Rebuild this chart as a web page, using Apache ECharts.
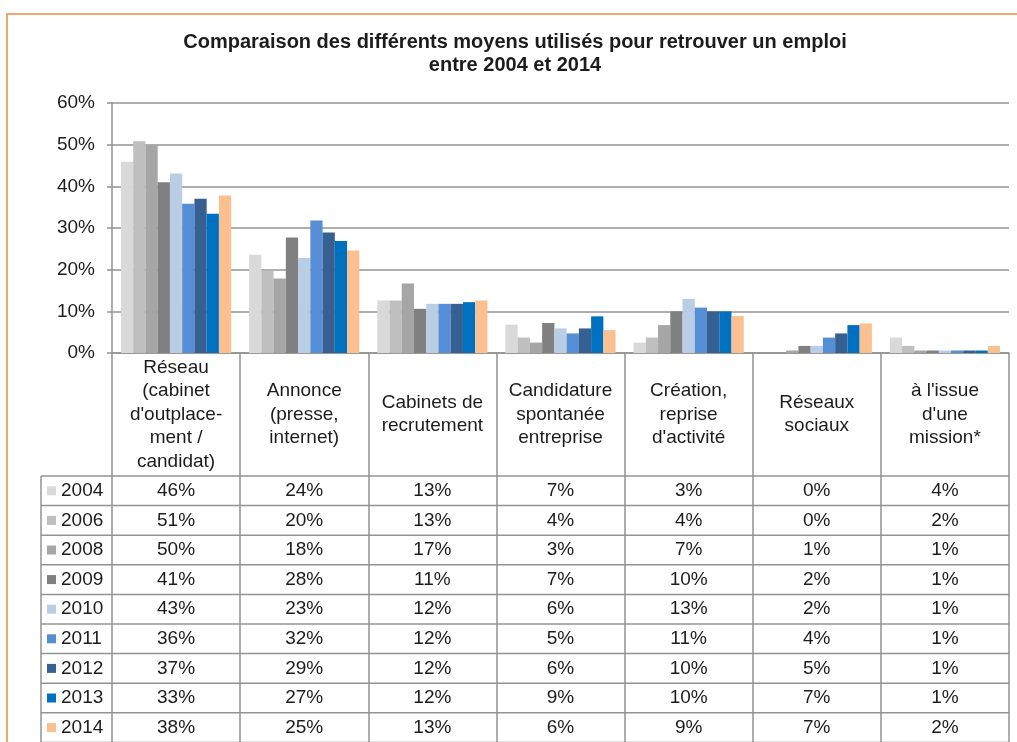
<!DOCTYPE html>
<html>
<head>
<meta charset="utf-8">
<script src="https://cdn.jsdelivr.net/npm/echarts@6/dist/echarts.min.js"></script>
<style>
  html, body { margin: 0; padding: 0; background: #fff; }
  #chart { width: 1017px; height: 742px; }
</style>
</head>
<body>
<div id="chart"></div>
<script>
/** categories (x axis / table header) */
var categories = [
    'Réseau\n(cabinet\nd\'outplace-\nment /\ncandidat)',
    'Annonce\n(presse,\ninternet)',
    'Cabinets de\nrecrutement',
    'Candidature\nspontanée\nentreprise',
    'Création,\nreprise\nd\'activité',
    'Réseaux\nsociaux',
    'à l\'issue\nd\'une\nmission*'
];
/** years (legend / table rows) */
var years = ['2004', '2006', '2008', '2009', '2010', '2011', '2012', '2013', '2014'];
/** values in %, one array per year */
var v2004 = [45.9, 23.6, 12.6, 6.8, 2.5, 0, 3.7];
var v2006 = [50.8, 19.8, 12.6, 3.7, 3.7, 0, 1.7];
var v2008 = [49.8, 17.9, 16.7, 2.5, 6.7, 0.6, 0.6];
var v2009 = [41.0, 27.7, 10.6, 7.2, 10.0, 1.7, 0.6];
var v2010 = [43.1, 22.8, 11.8, 5.9, 13.0, 1.7, 0.6];
var v2011 = [35.8, 31.8, 11.8, 4.7, 10.9, 3.7, 0.6];
var v2012 = [37.0, 28.9, 11.8, 5.9, 10.0, 4.7, 0.6];
var v2013 = [33.4, 26.9, 12.2, 8.8, 10.0, 6.7, 0.6];
var v2014 = [37.8, 24.6, 12.6, 5.5, 8.9, 7.1, 1.7];
var values = [v2004, v2006, v2008, v2009, v2010, v2011, v2012, v2013, v2014];
/** y axis ticks */
var yMin = 0, yMax = 60, yStep = 10;

var colors = ['#d9d9d9', '#bfbfbf', '#a6a6a6', '#808080', '#b9cde5',
              '#558ed5', '#376092', '#0070c0', '#fac090'];

// layout
var FONT = '"Liberation Sans", Arial, sans-serif';
var FS = 19;
var TXT = '#1c1c1c';
var LINE = '#939393';
var GRID_LEFT = 112, GRID_RIGHT = 1009, GRID_TOP = 103, PLOT_H = 250;
var AXIS_Y = GRID_TOP + PLOT_H;
var HEADER_H = 123, ROW_H = 29.6, TABLE_LEFT = 41;

var myChart = echarts.init(document.getElementById('chart'), null, {renderer: 'canvas'});

var series = [];
var xAxes = [{
    type: 'category',
    data: categories,
    axisLine: {lineStyle: {color: LINE, width: 1.5}},
    axisTick: {show: true, interval: 0, length: 400, lineStyle: {color: LINE, width: 1.5}},
    axisLabel: {
        interval: 0, margin: HEADER_H / 2, verticalAlign: 'middle',
        fontFamily: FONT, fontSize: FS, lineHeight: 23.4, color: TXT
    }
}];

for (var i = 0; i < years.length; i++) {
    series.push({
        name: years[i],
        type: 'bar',
        xAxisIndex: 0,
        data: values[i],
        barGap: 0,
        barCategoryGap: '14%',
        itemStyle: {color: colors[i]}
    });
    // one hidden axis per table row, labels = rounded values
    xAxes.push({
        type: 'category',
        position: 'bottom',
        offset: HEADER_H + i * ROW_H,
        data: values[i].map(function (v) { return Math.round(v) + '%'; }),
        axisLine: {show: false},
        axisTick: {show: false},
        splitLine: {show: false},
        axisLabel: {
            interval: 0, margin: ROW_H / 2, verticalAlign: 'middle',
            fontFamily: FONT, fontSize: FS, color: TXT
        }
    });
}

// frame + table lines
var graphics = [{
    type: 'rect',
    shape: {x: 7, y: 14, width: 1200, height: 900},
    style: {fill: null, stroke: '#f08a3a', lineWidth: 1.5},
    silent: true
}, {
    type: 'line',
    shape: {x1: TABLE_LEFT, y1: AXIS_Y + HEADER_H, x2: TABLE_LEFT, y2: 760},
    style: {stroke: LINE, lineWidth: 1.5},
    silent: true
}];
for (var r = 0; r <= years.length; r++) {
    var y = AXIS_Y + HEADER_H + r * ROW_H;
    graphics.push({
        type: 'line',
        shape: {x1: TABLE_LEFT, y1: y, x2: GRID_RIGHT, y2: y},
        style: {stroke: LINE, lineWidth: 1.5},
        silent: true
    });
}

var option = {
    animation: false,
    title: {
        text: 'Comparaison des différents moyens utilisés pour retrouver un emploi\nentre 2004 et 2014',
        left: 515,
        textAlign: 'center',
        top: 31,
        padding: 0,
        textStyle: {fontFamily: FONT, fontSize: 20, fontWeight: 'bold', color: TXT, lineHeight: 23}
    },
    legend: {
        orient: 'vertical',
        left: 47,
        top: AXIS_Y + HEADER_H + ROW_H / 2 - 10,
        padding: 0,
        itemWidth: 9,
        itemHeight: 9,
        itemGap: ROW_H - 20,
        icon: 'rect',
        data: years,
        textStyle: {fontFamily: FONT, fontSize: FS, color: TXT, lineHeight: 20}
    },
    grid: {
        left: GRID_LEFT,
        top: GRID_TOP,
        width: GRID_RIGHT - GRID_LEFT,
        height: PLOT_H,
        containLabel: false
    },
    xAxis: xAxes,
    yAxis: {
        type: 'value',
        min: yMin,
        max: yMax,
        interval: yStep,
        axisLine: {show: true, lineStyle: {color: LINE, width: 1.5}},
        axisTick: {show: true, length: 5, lineStyle: {color: LINE, width: 1.5}},
        splitLine: {lineStyle: {color: LINE, width: 1.5}},
        axisLabel: {formatter: '{value}%', margin: 17, fontFamily: FONT, fontSize: FS, color: TXT}
    },
    series: series,
    graphic: graphics
};

myChart.setOption(option);
</script>
</body>
</html>
